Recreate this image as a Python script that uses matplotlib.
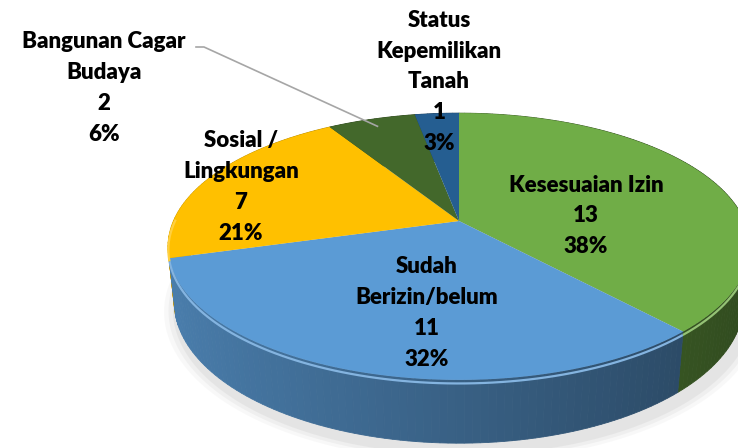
import numpy as np
import matplotlib
matplotlib.use('Agg')
import matplotlib.pyplot as plt
from matplotlib.colors import to_rgb

# ---- data ------------------------------------------------------------------
categories = ['Kesesuaian Izin', 'Sudah\nBerizin/belum', 'Sosial /\nLingkungan',
              'Bangunan Cagar\nBudaya', 'Status\nKepemilikan\nTanah']
values = [13, 11, 7, 2, 1]
colors = ['#70AD47', '#5B9BD5', '#FFC000', '#43682B', '#255E91']

# ---- 3d look (perspective pie) ---------------------------------------------
CX, CY = 459, 221          # pie centre in pixel space
R = 285.6                  # radius scale
ELEV_SIN, ELEV_COS = 0.450, 0.893
DIST = 4.67                # camera distance
THICK = 0.219              # pie thickness


def project(ang, r=1.0, z=0.0):
    ''' ang is clockwise from 12 o'clock (radians) '''
    x = r * np.sin(ang)
    y = r * np.cos(ang)
    ycam = y * ELEV_SIN + z * ELEV_COS
    depth = y * ELEV_COS - z * ELEV_SIN
    f = 1.0 / (1.0 + depth / DIST)
    return CX + R * x * f, CY - R * ycam * f


def scale(col, k):
    return tuple(min(1.0, v * k) for v in to_rgb(col))


def lighten(col, k):
    return tuple(v + (1 - v) * k for v in to_rgb(col))


fig = plt.figure(figsize=(7.38, 4.48), dpi=100)
ax = fig.add_axes([0, 0, 1, 1])
ax.set_xlim(0, 738)
ax.set_ylim(448, 0)
ax.axis('off')

total = float(sum(values))
edges = np.concatenate([[0], np.cumsum(values)]) / total * 2 * np.pi

# soft shadow under the pie
full = np.linspace(0, 2 * np.pi, 200)
for r, al in [(1.05, 0.05), (1.035, 0.07), (1.02, 0.09)]:
    sx, sy = project(full, r=r, z=-THICK - 0.02)
    ax.fill(sx + 4, sy + 2, color='#808080', alpha=al, lw=0, zorder=1)

# side walls, split in small pieces so they can be shaded
pieces = []
for i in range(len(values)):
    a = np.linspace(edges[i], edges[i + 1], max(3, int(values[i] * 8)))
    for a0, a1 in zip(a[:-1], a[1:]):
        pieces.append((np.cos((a0 + a1) / 2), a0, a1, colors[i]))
pieces.sort(key=lambda p: -p[0])   # back to front
for _, a0, a1, col in pieces:
    xt0, yt0 = project(a0)
    xt1, yt1 = project(a1)
    xb0, yb0 = project(a0, z=-THICK)
    xb1, yb1 = project(a1, z=-THICK)
    c = scale(col, 0.62 - 0.2 * np.sin((a0 + a1) / 2))
    ax.fill([xt0, xt1, xb1, xb0], [yt0, yt1, yb1, yb0],
            color=c, lw=0.6, ec=c, zorder=2)

# top faces
for i in range(len(values)):
    a = np.linspace(edges[i], edges[i + 1], 80)
    px, py = project(a)
    ax.fill(np.r_[CX, px], np.r_[CY, py], color=colors[i], lw=0, zorder=3)
    # light bevel along the front rim
    front = a[np.cos(a) < 0.05]
    if len(front) > 1:
        hx, hy = project(front, z=-0.012)
        ax.plot(hx, hy, color=lighten(colors[i], 0.25), lw=1.6,
                solid_capstyle='butt', zorder=3)

# labels
label_pos = [(586, 216), (427, 313), (241, 187), (104, 88), (439, 82)]
for i in range(len(values)):
    pct = round(values[i] / total * 100)
    txt = '%s\n%d\n%d%%' % (categories[i], values[i], pct)
    ax.text(label_pos[i][0], label_pos[i][1], txt, ha='center', va='center',
            fontsize=16, fontweight='heavy', family='Lato', color='black',
            linespacing=1.58, zorder=5)

# leader line for the small slice
mid = (edges[3] + edges[4]) / 2
lx, ly = project(mid, r=0.92)
ax.plot([196, 204, lx], [47, 47, ly], color='#A6A6A6', lw=1.2, zorder=4)

fig.savefig('out.png', dpi=100)
